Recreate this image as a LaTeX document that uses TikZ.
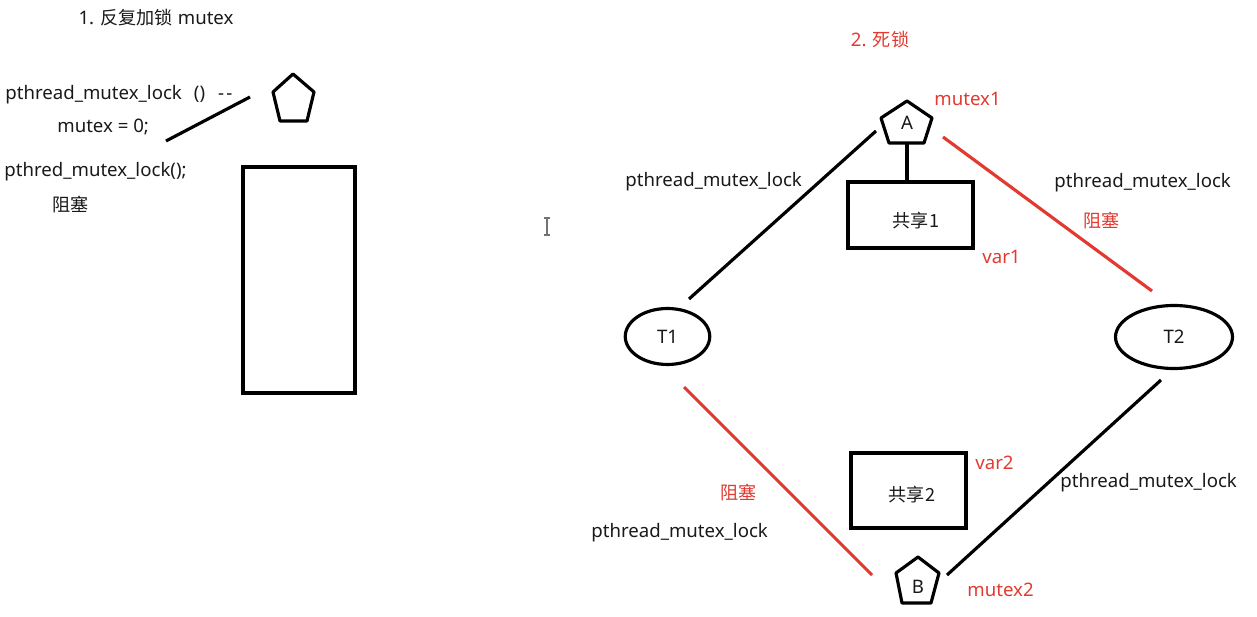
\documentclass[tikz,border=0pt]{standalone}
\usepackage{fontspec}
\setmainfont{Noto Sans}
\newfontfamily\cjk{Noto Sans CJK SC}
\usetikzlibrary{shapes.geometric}
\definecolor{myred}{RGB}{226,58,48}
\definecolor{ink}{RGB}{25,25,25}
\newcommand{\zh}[1]{{\cjk\fontsize{10.3}{12}\selectfont #1}}
\begin{document}
\begin{tikzpicture}[x=0.02cm,y=-0.02cm,
  txt/.style={text=ink,font=\fontsize{10.6}{12}\selectfont,inner sep=0},
  rtxt/.style={text=myred,font=\fontsize{10.6}{12}\selectfont,inner sep=0},
  edge/.style={line width=1.8pt,draw=black},
  redge/.style={line width=1.8pt,draw=myred},
  penta/.style={line width=1.8pt,draw=black,line join=round},
  box/.style={draw=black,line width=1.8pt,rectangle,inner sep=0},
  thread/.style={draw=black,line width=1.8pt,ellipse,inner sep=0,text=ink,font=\fontsize{10.6}{12}\selectfont}
]
\useasboundingbox (0,0) rectangle (1257,617);

% ---------- left part ----------
\node[txt] (t1title) at (156,18) {1. \zh{反复加锁} mutex};
\node[txt,anchor=west] (c1) at (5,95) {pthread\_mutex\_lock\hspace{0.65em}()\hspace{0.7em}-\kern0.12em-};
\node[txt,anchor=west] (c2) at (57,127) {mutex = 0;};
\node[txt,anchor=west] (c3) at (4,172) {pthred\_mutex\_lock();};
\node[txt,anchor=west] (c4) at (52,205) {\zh{阻塞}};

\draw[penta] (293,74) -- (314,92) -- (307,121) -- (280,121) -- (273,92) -- cycle;
\coordinate (lockL) at (293,99);
\coordinate (lineA) at (166,141);
\coordinate (lineB) at (250,97);
\draw[edge] (lineA) -- (lineB);

\node[box,minimum width=2.24cm,minimum height=4.52cm] (bigbox) at (299,280) {};

% text cursor
\draw[line width=1.1pt,draw=black!55] (547,218) -- (547,235)
  (544,218) -- (550,218) (544,235) -- (550,235);

% ---------- right part ----------
\node[rtxt] (t2title) at (880,40) {2. \zh{死锁}};

% mutex A
\draw[penta] (907,101) -- (932,118) -- (924,143) -- (889,143) -- (881,118) -- cycle;
\node[txt] (A) at (907,123) {A};
\node[rtxt,anchor=west] (m1) at (934,99) {mutex1};
\coordinate (Abot) at (907,143);

% shared 1
\node[box,minimum width=2.5cm,minimum height=1.32cm] (S1) at (910.5,215) {};
\node[txt] (s1t) at (916,221) {\zh{共享1}};
\node[rtxt,anchor=west] (v1) at (982,257) {var1};
\draw[edge] (Abot) -- (Abot |- S1.north);

% threads
\node[thread,minimum width=1.69cm,minimum height=1.12cm] (T1) at (667.5,336.5) {T1};
\node[thread,minimum width=2.34cm,minimum height=1.26cm] (T2) at (1174,337) {T2};

% mutex B
\draw[penta] (918,557) -- (939,573) -- (931,603) -- (902,603) -- (896,573) -- cycle;
\node[txt] (B) at (918,587) {B};
\node[rtxt,anchor=west] (m2) at (967,590) {mutex2};

% shared 2
\node[box,minimum width=2.3cm,minimum height=1.5cm] (S2) at (908.5,490.5) {};
\node[txt] (s2t) at (912,495) {\zh{共享2}};
\node[rtxt,anchor=west] (v2) at (975,463) {var2};

% connectors
\coordinate (T1up) at (689,299);
\coordinate (AL) at (876,131);
\coordinate (AR) at (943,137);
\coordinate (T2up) at (1152,291);
\coordinate (T1dn) at (684,387);
\coordinate (BL) at (872,575);
\coordinate (T2dn) at (1161,380);
\coordinate (BR) at (947,575);
\draw[edge] (T1up) -- (AL);
\draw[redge] (AR) -- (T2up);
\draw[redge] (T1dn) -- (BL);
\draw[edge] (T2dn) -- (BR);

% labels
\node[txt,anchor=west] (l1) at (625,182) {pthread\_mutex\_lock};
\node[txt,anchor=west] (l2) at (1054,183) {pthread\_mutex\_lock};
\node[rtxt,anchor=west] (r1) at (1083,221) {\zh{阻塞}};
\node[rtxt,anchor=west] (r2) at (720,493) {\zh{阻塞}};
\node[txt,anchor=west] (l3) at (591,533) {pthread\_mutex\_lock};
\node[txt,anchor=west] (l4) at (1060,483) {pthread\_mutex\_lock};
\end{tikzpicture}
\end{document}
